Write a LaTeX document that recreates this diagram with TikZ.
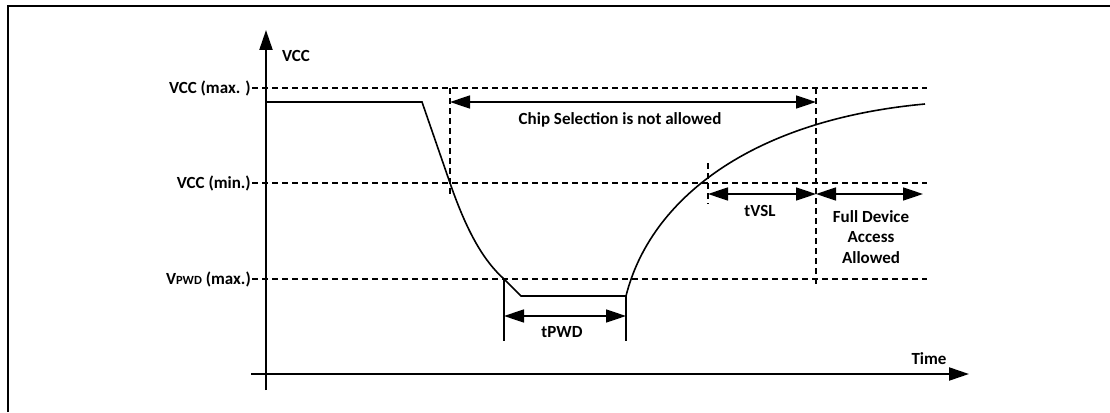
\documentclass[tikz,border=0pt]{standalone}
\usepackage{fontspec}
\setmainfont{Carlito}
\usepackage{tikz}
\usetikzlibrary{arrows.meta, positioning, calc}

\tikzset{
  lbl/.style={font=\bfseries\fontsize{17}{20.5}\selectfont, inner sep=1pt},
  guide/.style={dash pattern=on 6pt off 4pt, line width=1.5pt},
  wave/.style={line width=1.6pt},
  axis/.style={line width=2.1pt, -{Triangle[length=20pt, width=13pt]}},
  dimarrow/.style={line width=1.6pt, {Triangle[length=20pt, width=13pt]}-{Triangle[length=20pt, width=13pt]}}
}

\begin{document}
\begin{tikzpicture}[x=1pt, y=-1pt]
\useasboundingbox (0,0) rectangle (1110,412);
% frame
\draw[line width=2pt] (8,412) -- (8,6) -- (1110,6);

% axes
\coordinate (ybot) at (266,390);
\coordinate (ytop) at (266,30);
\coordinate (xleft) at (251,374);
\coordinate (xright) at (969,374);
\draw[axis] (ybot) -- (ytop);
\draw[axis] (xleft) -- (xright);
\node[lbl] (vcc) at (296,56) {VCC};
\node[lbl] (time) at (929,359) {Time};

% voltage levels
\node[lbl, anchor=east] (lvmax) at (252,88) {VCC (max. )};
\node[lbl, anchor=east] (lvmin) at (252,183) {VCC (min.)};
\node[lbl, anchor=east] (lvpwd) at (252,279) {V{\fontsize{12.5}{14}\selectfont PWD} (max.)};
\coordinate (rvmax) at (927,88);
\coordinate (rvmin) at (927,183);
\coordinate (rvpwd) at (927,279);
\draw[guide] (lvmax.east) -- (rvmax);
\draw[guide] (lvmin.east) -- (rvmin);
\draw[guide] (lvpwd.east) -- (rvpwd);

% time markers
\coordinate (csstart) at (450,102);
\coordinate (csend) at (816,102);
\coordinate (vslstart) at (708,194);
\coordinate (fdend) at (923,194);
\coordinate (fdstart) at (816,194);
\draw[guide] (450,88) -- (450,195);
\draw[guide] (816,88) -- (816,285);
\draw[guide] (708,163) -- (708,204);

% supply waveform
\coordinate (flat) at (266,102);
\coordinate (fall) at (422,102);
\coordinate (pwdtop) at (504,279);
\coordinate (pwdlow) at (521,296);
\coordinate (riselow) at (626,296);
\coordinate (rampend) at (925,104);
\draw[wave] (flat) -- (fall) -- (450,183)
  .. controls (468,235) and (485,262) .. (pwdtop) -- (pwdlow) -- (riselow)
  .. controls (650,200) and (750,120) .. (rampend);

% tPWD
\coordinate (pwdl) at (504,341);
\coordinate (pwdr) at (626,341);
\draw[wave] (pwdtop) -- (pwdl);
\draw[wave] (riselow) -- (pwdr);
\draw[dimarrow] (504,316) -- (626,316);
\node[lbl] (tpwd) at (562,332) {tPWD};

% windows
\draw[dimarrow] (csstart) -- (csend);
\node[lbl] (cs) at (620,120) {Chip Selection is not allowed};
\draw[dimarrow] (vslstart) -- (fdstart);
\node[lbl] (tvsl) at (760,211) {tVSL};
\draw[dimarrow] (fdstart) -- (fdend);
\node[lbl, align=center] (fda) at (871,237) {Full Device\\Access\\Allowed};
\end{tikzpicture}
\end{document}
